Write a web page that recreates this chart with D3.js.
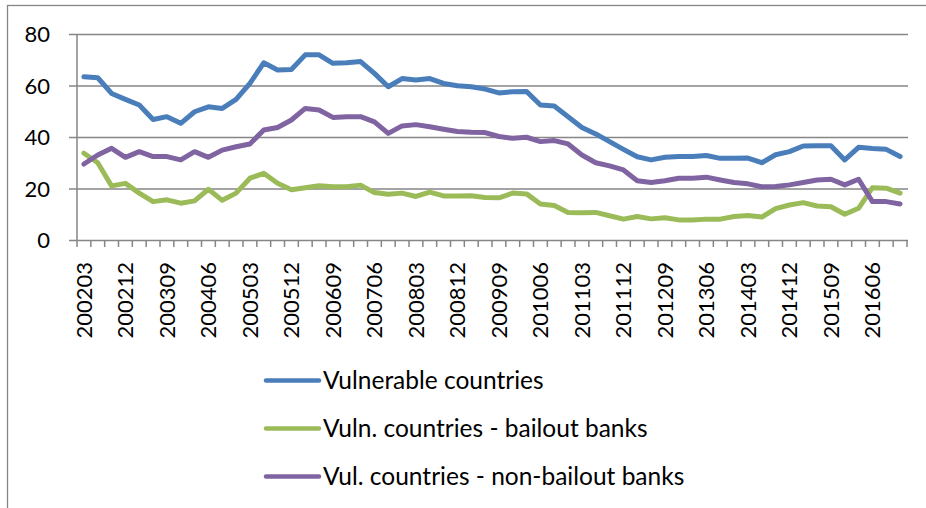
<!DOCTYPE html>
<html>
<head>
<meta charset="utf-8">
<script src="https://cdn.jsdelivr.net/npm/d3@7"></script>
<style>
  body { margin: 0; background: #fff; }
  svg { display: block; }
  text { font-family: Lato, "Open Sans", sans-serif; fill: #000; }
</style>
</head>
<body>
<div id="chart"></div>
<script>
const quarters = [
  "200203", "200206", "200209", "200212", "200303", "200306", "200309", "200312",
  "200403", "200406", "200409", "200412", "200503", "200506", "200509", "200512",
  "200603", "200606", "200609", "200612", "200703", "200706", "200709", "200712",
  "200803", "200806", "200809", "200812", "200903", "200906", "200909", "200912",
  "201003", "201006", "201009", "201012", "201103", "201106", "201109", "201112",
  "201203", "201206", "201209", "201212", "201303", "201306", "201309", "201312",
  "201403", "201406", "201409", "201412", "201503", "201506", "201509", "201512",
  "201603", "201606", "201609", "201612"
];

const vulnerable = [
  63.6, 63.2, 57.1, 54.8, 52.6, 47.0, 48.1, 45.5, 50.0, 51.9,
  51.3, 54.8, 61.0, 69.0, 66.2, 66.4, 72.1, 72.1, 68.8, 69.0,
  69.5, 64.9, 59.7, 62.9, 62.3, 62.9, 61.0, 60.1, 59.7, 58.8,
  57.3, 57.8, 57.9, 52.6, 52.2, 48.1, 43.9, 41.4, 38.4, 35.4,
  32.5, 31.3, 32.3, 32.6, 32.6, 33.0, 31.9, 31.9, 32.0, 30.2,
  33.3, 34.5, 36.7, 36.8, 36.8, 31.3, 36.2, 35.7, 35.4, 32.6
];

const bailout = [
  33.9, 30.2, 21.2, 22.2, 18.4, 15.1, 15.8, 14.5, 15.4, 19.9,
  15.6, 18.4, 24.2, 26.1, 22.2, 19.7, 20.5, 21.3, 20.9, 20.9,
  21.5, 18.6, 18.0, 18.4, 17.1, 18.8, 17.3, 17.3, 17.4, 16.7,
  16.6, 18.4, 18.1, 14.2, 13.6, 10.9, 10.8, 10.9, 9.6, 8.3,
  9.3, 8.4, 8.8, 8.0, 8.0, 8.3, 8.3, 9.3, 9.7, 9.1,
  12.4, 13.8, 14.7, 13.4, 13.1, 10.2, 12.5, 20.5, 20.3, 18.4
];

const nonBailout = [
  29.7, 33.2, 35.8, 32.3, 34.5, 32.6, 32.6, 31.3, 34.5, 32.3,
  35.1, 36.4, 37.5, 42.9, 43.9, 46.8, 51.3, 50.7, 47.8, 48.1,
  48.1, 46.1, 41.6, 44.5, 45.0, 44.2, 43.2, 42.3, 42.0, 41.9,
  40.4, 39.7, 40.1, 38.4, 38.8, 37.5, 33.2, 30.2, 29.0, 27.4,
  23.2, 22.5, 23.2, 24.2, 24.2, 24.6, 23.5, 22.5, 22.0, 20.9,
  21.0, 21.6, 22.5, 23.5, 23.8, 21.6, 23.8, 15.1, 15.1, 14.2
];

const seriesNames = [
  "Vulnerable countries",
  "Vuln. countries - bailout banks",
  "Vul. countries - non-bailout banks"
];
const seriesColors = ["#4A7EBB", "#9BBB59", "#8064A2"];
const yTicks = [0, 20, 40, 60, 80];

const width = 926, height = 508;
const gridColor = "#868686";

const svg = d3.select("#chart").append("svg")
  .attr("width", width)
  .attr("height", height);

// outer chart frame (cropped at right and bottom)
svg.append("rect")
  .attr("x", 7.5).attr("y", 5.5)
  .attr("width", width + 10).attr("height", height + 10)
  .attr("fill", "none")
  .attr("stroke", gridColor)
  .attr("stroke-width", 1.3);

const x = d3.scaleBand()
  .domain(quarters)
  .range([77, 907])
  .paddingInner(0).paddingOuter(0);

const y = d3.scaleLinear()
  .domain([0, 80])
  .range([240.5, 34.5]);

const cx = d => x(d) + x.bandwidth() / 2;

// gridlines + y labels
const yAxis = svg.append("g");
yAxis.selectAll("line")
  .data(yTicks)
  .join("line")
  .attr("x1", 69).attr("x2", 908)
  .attr("y1", d => y(d)).attr("y2", d => y(d))
  .attr("stroke", gridColor)
  .attr("stroke-width", 1.5);

yAxis.selectAll("text")
  .data(yTicks)
  .join("text")
  .attr("x", 50)
  .attr("y", d => y(d))
  .attr("dy", "0.36em")
  .attr("text-anchor", "end")
  .style("font-size", "22px")
  .text(d => d);

// y axis line
svg.append("line")
  .attr("x1", 77).attr("x2", 77)
  .attr("y1", y(80)).attr("y2", y(0))
  .attr("stroke", gridColor)
  .attr("stroke-width", 1.5);

// x tick marks between categories
const tickPos = quarters.map(q => x(q)).concat([x.range()[1]]);
svg.append("g").selectAll("line")
  .data(tickPos)
  .join("line")
  .attr("x1", d => d).attr("x2", d => d)
  .attr("y1", y(0)).attr("y2", y(0) + 6.5)
  .attr("stroke", gridColor)
  .attr("stroke-width", 1.5);

// x labels, every third quarter, rotated
svg.append("g").selectAll("text")
  .data(quarters.filter((q, i) => i % 3 === 0))
  .join("text")
  .attr("transform", d => `translate(${cx(d)},262) rotate(-90)`)
  .attr("dy", "0.36em")
  .attr("text-anchor", "end")
  .style("font-size", "22px")
  .text(d => d);

// lines
const line = d3.line()
  .x((d, i) => cx(quarters[i]))
  .y(d => y(d));

const allSeries = [vulnerable, bailout, nonBailout];
svg.append("g").selectAll("path")
  .data(allSeries)
  .join("path")
  .attr("d", d => line(d))
  .attr("fill", "none")
  .attr("stroke", (d, i) => seriesColors[i])
  .attr("stroke-width", 5)
  .attr("stroke-linejoin", "round")
  .attr("stroke-linecap", "round");

// legend
const legendY = [380.5, 428.5, 476.5];
const legend = svg.append("g").selectAll("g")
  .data(seriesNames)
  .join("g")
  .attr("transform", (d, i) => `translate(0,${legendY[i]})`);

legend.append("line")
  .attr("x1", 266).attr("x2", 319)
  .attr("stroke", (d, i) => seriesColors[i])
  .attr("stroke-width", 4.5)
  .attr("stroke-linecap", "round");

legend.append("text")
  .attr("x", 323)
  .attr("dy", "0.36em")
  .style("font-size", "24.5px")
  .text(d => d);
</script>
</body>
</html>
